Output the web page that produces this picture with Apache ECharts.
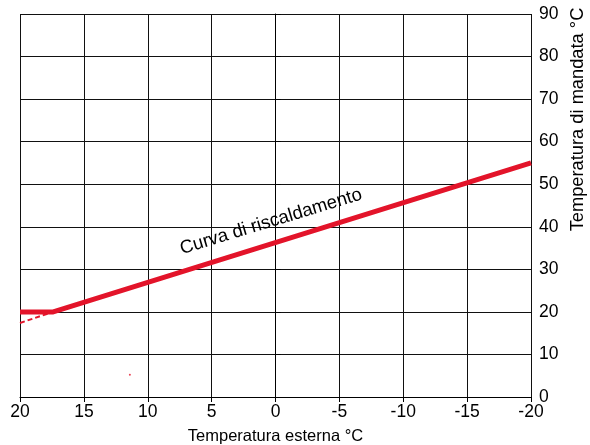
<!DOCTYPE html>
<html>
<head>
<meta charset="utf-8">
<script src="https://cdn.jsdelivr.net/npm/echarts@6/dist/echarts.min.js"></script>
<style>
  html, body { margin: 0; padding: 0; background: #fff; }
  #chart { width: 590px; height: 445px; }
</style>
</head>
<body>
<div id="chart"></div>
<script>
// curva di riscaldamento: [temperatura esterna, temperatura mandata]
const curveMain = [[20, 20], [17.4, 20], [-20, 55]];
const curveDashed = [[20, 17.4], [17.4, 20]];
const strayDot = [[11.4, 5.2]];
const curveLabel = "Curva di riscaldamento";
const labelAt = [0.35, 41.2];

const font = "Liberation Sans, Arial, sans-serif";
const red = "#e3142a";

const chart = echarts.init(document.getElementById("chart"), null, { renderer: "canvas" });

chart.setOption({
  animation: false,
  grid: { left: 20, right: 59, top: 14, bottom: 48, outerBoundsMode: "none", containLabel: false },
  xAxis: {
    type: "value",
    min: -20, max: 20, interval: 5, inverse: true,
    name: "Temperatura esterna °C",
    nameLocation: "middle", nameGap: 31,
    nameTextStyle: { fontFamily: font, fontSize: 16.5, color: "#000" },
    axisLine: { show: true, lineStyle: { color: "#000", width: 1 } },
    axisTick: { show: true, length: 5, lineStyle: { color: "#000" } },
    axisLabel: { fontFamily: font, fontSize: 17.5, color: "#000", margin: 6 },
    splitLine: { show: true, lineStyle: { color: "#111", width: 1 } }
  },
  yAxis: {
    type: "value", position: "right",
    min: 0, max: 90, interval: 10,
    name: "Temperatura di mandata °C",
    nameLocation: "middle", nameRotate: 90, nameGap: 38,
    // nome spostato verso l'alto come nell'originale
    nameTextStyle: { fontFamily: font, fontSize: 18.3, color: "#000", padding: [0, 0, 0, 172] },
    axisLine: { show: true, lineStyle: { color: "#000", width: 1 } },
    axisTick: { show: true, length: 5, lineStyle: { color: "#000" } },
    axisLabel: { fontFamily: font, fontSize: 17.5, color: "#000", margin: 8 },
    splitLine: { show: true, lineStyle: { color: "#111", width: 1 } }
  },
  series: [
    {
      type: "line", data: curveMain, symbol: "none",
      lineStyle: { color: red, width: 5 },
      markPoint: {
        symbol: "circle", symbolSize: 0,
        label: {
          show: true, formatter: curveLabel, rotate: 17,
          fontFamily: font, fontSize: 18.5, color: "#000"
        },
        data: [{ coord: labelAt }]
      }
    },
    {
      type: "line", data: curveDashed, symbol: "none",
      lineStyle: { color: red, width: 2, type: [5, 3] }
    },
    {
      type: "scatter", data: strayDot, symbolSize: 2,
      itemStyle: { color: red }
    }
  ]
});
</script>
</body>
</html>
